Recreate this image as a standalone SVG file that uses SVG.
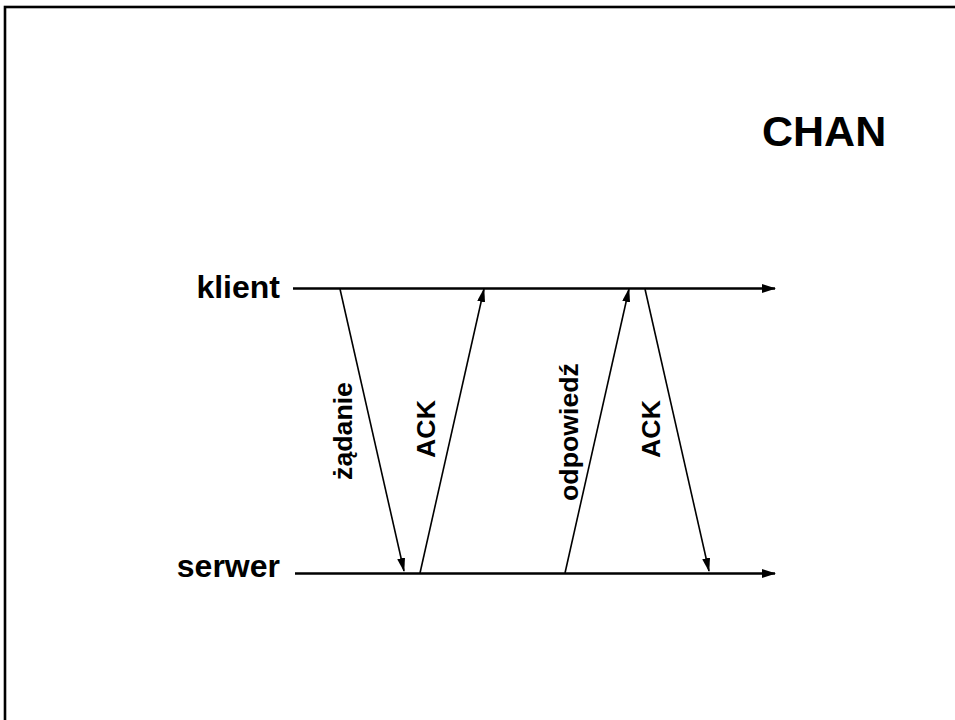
<svg xmlns="http://www.w3.org/2000/svg" width="955" height="720" viewBox="0 0 955 720">
  <style>
    .lbl { font-family: "Liberation Sans", Arial, sans-serif; font-weight: bold; fill: #000; }
    .axis-name { font-size: 32px; text-anchor: end; }
    .msg { font-size: 26.7px; text-anchor: middle; }
    .title { font-size: 43px; }
    .axis { stroke: #000; stroke-width: 2.4; fill: none; }
    .msg-line { stroke: #000; stroke-width: 1.6; fill: none; }
  </style>
  <defs>
    <marker id="head" markerUnits="userSpaceOnUse" markerWidth="14" markerHeight="10" refX="13" refY="4.5" orient="auto">
      <path d="M0,0 L14,4.5 L0,9 z" fill="#000"/>
    </marker>
    <marker id="head-small" markerUnits="userSpaceOnUse" markerWidth="14" markerHeight="10" refX="13" refY="4" orient="auto">
      <path d="M0,0 L14,4 L0,8 z" fill="#000"/>
    </marker>
  </defs>

  <rect width="955" height="720" fill="#fff"/>
  <!-- slide frame, open to the right and bottom -->
  <rect x="5" y="7" width="980" height="760" fill="none" stroke="#000" stroke-width="2.6"/>

  <text class="lbl title" x="762" y="146">CHAN</text>

  <g id="klient">
    <text class="lbl axis-name" x="280" y="298">klient</text>
  </g>
  <g id="serwer">
    <text class="lbl axis-name" x="280" y="577">serwer</text>
  </g>

  <g id="connectors">
    <line class="axis" x1="293" y1="288.5" x2="775" y2="288.5" marker-end="url(#head)"/>
    <line class="axis" x1="295" y1="573.5" x2="775" y2="573.5" marker-end="url(#head)"/>
    <line class="msg-line" x1="340" y1="289" x2="404" y2="571" marker-end="url(#head-small)"/>
    <line class="msg-line" x1="420" y1="573" x2="484" y2="289" marker-end="url(#head-small)"/>
    <line class="msg-line" x1="565" y1="573" x2="629" y2="289" marker-end="url(#head-small)"/>
    <line class="msg-line" x1="645" y1="289" x2="709" y2="571" marker-end="url(#head-small)"/>
  </g>

  <g id="label-zadanie">
    <text class="lbl msg" transform="translate(352,431) rotate(-90)">żądanie</text>
  </g>
  <g id="label-ack1">
    <text class="lbl msg" transform="translate(435,429) rotate(-90)">ACK</text>
  </g>
  <g id="label-odpowiedz">
    <text class="lbl msg" transform="translate(578,432) rotate(-90)">odpowiedź</text>
  </g>
  <g id="label-ack2">
    <text class="lbl msg" transform="translate(660,429) rotate(-90)">ACK</text>
  </g>
</svg>
